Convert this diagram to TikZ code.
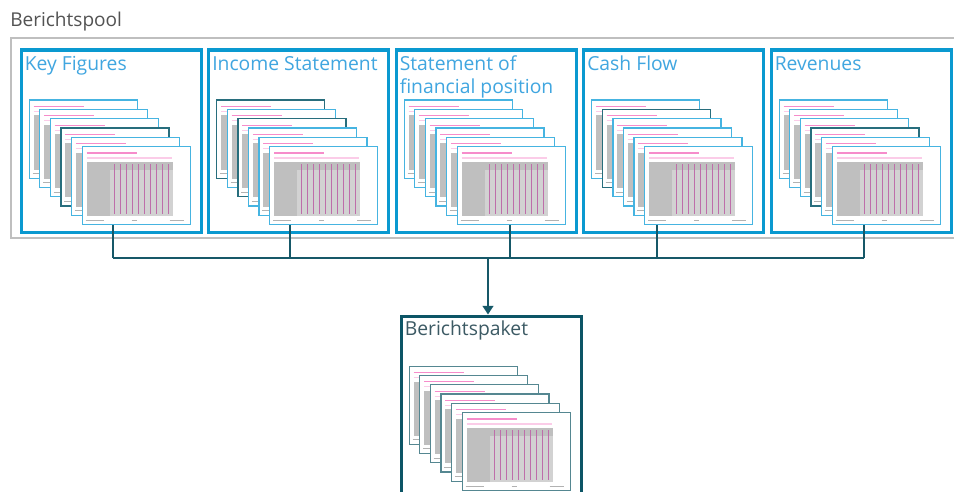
\documentclass[tikz,border=0pt]{standalone}
\usepackage{fontspec}
\setmainfont{Open Sans}
\usetikzlibrary{calc,arrows.meta}

\definecolor{boxblue}{RGB}{10,153,208}
\definecolor{titleblue}{RGB}{64,166,224}
\definecolor{pglight}{RGB}{70,180,225}
\definecolor{pgdark}{RGB}{40,110,125}
\definecolor{pgteal}{RGB}{85,135,145}
\definecolor{linkteal}{RGB}{22,88,104}
\definecolor{pkgteal}{RGB}{12,85,102}
\definecolor{pkgtext}{RGB}{60,90,100}
\definecolor{speck}{RGB}{190,110,170}

\begin{document}
\begin{tikzpicture}[x=0.75pt, y=-0.75pt,
    pool/.style={draw=gray!50, line width=1.1pt},
    box/.style={rectangle, draw=boxblue, line width=2.3pt, minimum width=135pt, minimum height=136.5pt, inner sep=0pt, anchor=north west},
    pkgbox/.style={box, draw=pkgteal},
    boxtitle/.style={anchor=base west, inner sep=0pt, text=titleblue, align=left, font=\fontsize{14.5pt}{17.25pt}\selectfont},
    page/.style={rectangle, fill=white, line width=1pt, minimum width=81pt, minimum height=58.5pt, inner sep=0pt, anchor=north west},
    head/.style={draw=magenta!45, line width=0.8pt},
    tbl/.style={fill=gray!50},
    cell/.style={fill=gray!35},
    col/.style={fill=speck},
    foot/.style={draw=gray!60, line width=0.6pt},
    link/.style={draw=linkteal, line width=1.5pt},
    arrow/.style={link, -{Triangle[length=6.5pt,width=8pt]}}
]
    \clip (0,0) rectangle (954,492);
    \fill[white] (0,0) rectangle (954,492);

    % report pool
    \node[anchor=base west, inner sep=0pt, text=gray!65!black, font=\fontsize{14.3pt}{17pt}\selectfont] (pooltitle) at (10,27) {Berichtspool};
    \draw[pool] (960,38) -- (11,38) -- (11,238) -- (960,238);

    \node[box] (kf)  at (19.5,48.5)  {};
    \node[box] (is)  at (207,48.5)   {};
    \node[box] (sfp) at (394.5,48.5) {};
    \node[box] (cf)  at (582,48.5)   {};
    \node[box] (rev) at (769.5,48.5) {};
    \node[pkgbox] (pkg) at (399.5,314.5) {};

    \node[boxtitle] (kft)  at ($(kf.north west)+(5,22)$)  {Key Figures};
    \node[boxtitle] (ist)  at ($(is.north west)+(5,22)$)  {Income Statement};
    \node[boxtitle] (sfpt) at ($(sfp.north west)+(5,45)$) {Statement of\\financial position};
    \node[boxtitle] (cft)  at ($(cf.north west)+(5,22)$)  {Cash Flow};
    \node[boxtitle] (revt) at ($(rev.north west)+(5,22)$) {Revenues};
    \node[boxtitle, text=pkgtext] (pkgt) at ($(pkg.north west)+(5,21)$) {Berichtspaket};

    % stacks of report pages
    \foreach \b/\cols in {kf/{pglight,pglight,pglight,pgdark,pglight,pglight},
                          is/{pgdark,pglight,pgdark,pglight,pglight,pglight},
                          sfp/{pglight,pglight,pglight,pglight,pglight,pglight},
                          cf/{pglight,pgdark,pglight,pglight,pglight,pglight},
                          rev/{pglight,pglight,pglight,pgdark,pglight,pglight},
                          pkg/{pgteal,pgteal,pgteal,pgteal,pgteal,pgteal}} {
      \foreach \c [count=\i] in \cols {
        \node[page, draw=\c] (\b-p\i) at ($(\b.north west)+({9+10.6*(\i-1)},{51+9.3*(\i-1)})$) {};
        \draw[head] ($(\b-p\i.north west)+(5,7)$) -- +(50,0);
        \draw[head, draw=magenta!20] ($(\b-p\i.north west)+(5,12)$) -- +(85,0);
        \fill[tbl] ($(\b-p\i.north west)+(5,16)$) rectangle +(86,54);
        \fill[cell] ($(\b-p\i.north west)+(28,24)$) rectangle +(63,46);
        \foreach \k in {0,...,9} {
          \fill[col] ($(\b-p\i.north west)+({32+6*\k},18)$) rectangle +(1.3,50);
        }
        \draw[foot] ($(\b-p\i.north west)+(4,74)$) -- +(18,0);
        \draw[foot] ($(\b-p\i.north west)+(50,74)$) -- +(5,0);
        \draw[foot] ($(\b-p\i.north west)+(88,74)$) -- +(14,0);
      }
    }

    % connectors
    \coordinate (j1) at (113,258);
    \coordinate (j2) at (290,258);
    \coordinate (j3) at (510,258);
    \coordinate (j4) at (657,258);
    \coordinate (j5) at (864,258);
    \coordinate (split) at (488,258);
    \draw[link] (j1 |- kf-p6.south) -- (j1);
    \draw[link] (j2 |- is-p6.south) -- (j2);
    \draw[link] (j3 |- sfp-p6.south) -- (j3);
    \draw[link] (j4 |- cf-p6.south) -- (j4);
    \draw[link] (j5 |- rev-p6.south) -- (j5);
    \draw[link] (j1) -- (j5);
    \draw[arrow] (split) -- (split |- pkg.north);
\end{tikzpicture}
\end{document}
